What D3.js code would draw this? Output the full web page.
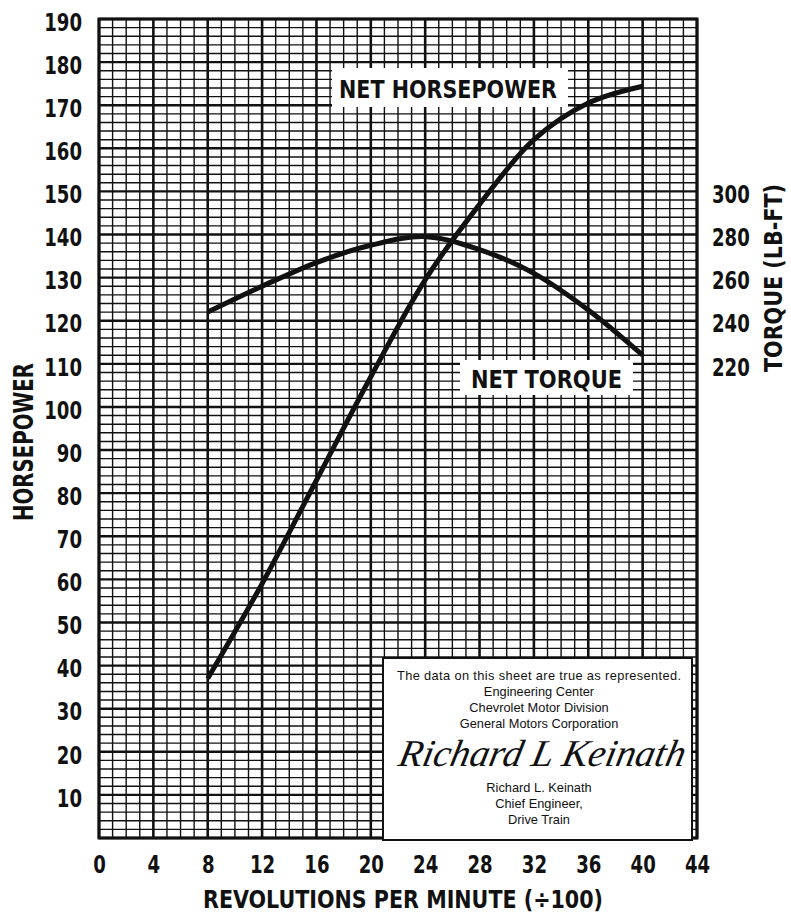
<!DOCTYPE html>
<html>
<head>
<meta charset="utf-8">
<script src="https://cdn.jsdelivr.net/npm/d3@7"></script>
<style>
  body { margin: 0; background: #fff; }
  svg text { fill: #111; }
  .lbl { font-family: "Liberation Sans Narrow", "DejaVu Sans Condensed", sans-serif; font-weight: bold; }
</style>
</head>
<body>
<div id="graph"></div>
<script>
// engine speed (x100 rpm)
var rpm = [8, 12, 16, 20, 24, 28, 32, 36, 40];
// net horsepower
var netHorsepower = [37, 59, 83, 107, 129.5, 147, 162, 170.5, 174.4];
// net torque (lb-ft)
var netTorque = [244, 256, 267, 275, 279, 273, 262, 245, 224];

var rpmTicks = [0, 4, 8, 12, 16, 20, 24, 28, 32, 36, 40, 44];
var hpTicks = [10, 20, 30, 40, 50, 60, 70, 80, 90, 100, 110, 120, 130, 140, 150, 160, 170, 180, 190];
var torqueTicks = [220, 240, 260, 280, 300];

var noteLines = ["The data on this sheet are true as represented.", "Engineering Center",
    "Chevrolet Motor Division", "General Motors Corporation"];
var signerLines = ["Richard L. Keinath", "Chief Engineer,", "Drive Train"];

var W = 791, H = 918;
var margin = {top: 19, right: 94, bottom: 80, left: 99},
    w = W - margin.left - margin.right,
    h = H - margin.top - margin.bottom;

var x = d3.scaleLinear().domain([0, 44]).range([0, w]);
var y = d3.scaleLinear().domain([0, 190]).range([h, 0]);
// torque is plotted at twice the horsepower scale
var yT = d3.scaleLinear().domain([0, 380]).range([h, 0]);

var svg = d3.select("#graph").append("svg")
    .attr("width", W)
    .attr("height", H)
    .append("g")
    .attr("transform", "translate(" + margin.left + "," + margin.top + ")");

// graph paper
svg.selectAll("line.vgrid")
    .data(d3.range(0, 45, 1))
    .enter().append("line")
    .attr("x1", d => x(d)).attr("x2", d => x(d))
    .attr("y1", 0).attr("y2", h)
    .style("stroke", "#111")
    .style("stroke-width", d => d % 4 == 0 ? 2.6 : 1.4);

svg.selectAll("line.hgrid")
    .data(d3.range(0, 191, 2))
    .enter().append("line")
    .attr("x1", 0).attr("x2", w)
    .attr("y1", d => y(d)).attr("y2", d => y(d))
    .style("stroke", "#111")
    .style("stroke-width", d => d % 10 == 0 ? 2.4 : 1.4);

svg.append("rect")
    .attr("x", 0).attr("y", 0).attr("width", w).attr("height", h)
    .style("fill", "none").style("stroke", "#111").style("stroke-width", 3);

// curves
var line = d3.line().curve(d3.curveCatmullRom);

svg.append("path")
    .attr("d", line(rpm.map((r, i) => [x(r), y(netHorsepower[i])])))
    .style("fill", "none").style("stroke", "#111").style("stroke-width", 5)
    .style("stroke-linecap", "butt");

svg.append("path")
    .attr("d", line(rpm.map((r, i) => [x(r), yT(netTorque[i])])))
    .style("fill", "none").style("stroke", "#111").style("stroke-width", 5)
    .style("stroke-linecap", "butt");

// curve labels
function tag(x0, y0, bw, bh, txt, tx, ty, len) {
    svg.append("rect")
        .attr("x", x0 - margin.left).attr("y", y0 - margin.top)
        .attr("width", bw).attr("height", bh)
        .style("fill", "#fff");
    svg.append("text")
        .attr("class", "lbl")
        .attr("x", tx - margin.left).attr("y", ty - margin.top)
        .attr("textLength", len).attr("lengthAdjust", "spacingAndGlyphs")
        .style("font-size", "25px")
        .text(txt);
}
tag(332, 68, 236, 39, "NET HORSEPOWER", 339, 98, 218);
tag(460, 360, 173, 35, "NET TORQUE", 471, 388, 151);

// certification box
var bx = 383 - margin.left, by = 658 - margin.top, bw = 309, bh = 182;
svg.append("rect")
    .attr("x", bx).attr("y", by).attr("width", bw).attr("height", bh)
    .style("fill", "#fff").style("stroke", "#111").style("stroke-width", 2);

var cx = 539 - margin.left;
svg.selectAll(".note")
    .data(noteLines)
    .enter().append("text")
    .attr("x", cx)
    .attr("y", (d, i) => 680 - margin.top + i * 16)
    .attr("text-anchor", "middle")
    .attr("textLength", (d, i) => i == 0 ? 284 : null)
    .style("font-family", "Liberation Sans, Arial, sans-serif")
    .style("font-size", "12.8px")
    .text(d => d);

svg.append("text")
    .attr("transform", "translate(" + (397 - margin.left) + "," + (766 - margin.top) + ") skewX(-12)")
    .attr("textLength", 286).attr("lengthAdjust", "spacingAndGlyphs")
    .style("font-family", "Liberation Serif, serif")
    .style("font-style", "italic")
    .style("font-size", "38px")
    .text("Richard L Keinath");

svg.selectAll(".signer")
    .data(signerLines)
    .enter().append("text")
    .attr("x", cx)
    .attr("y", (d, i) => 792 - margin.top + i * 16)
    .attr("text-anchor", "middle")
    .style("font-family", "Liberation Sans, Arial, sans-serif")
    .style("font-size", "12.8px")
    .text(d => d);

// axes
var xAxis = d3.axisBottom(x).tickValues(rpmTicks).tickSize(0).tickPadding(17);
var yAxis = d3.axisLeft(y).tickValues(hpTicks).tickSize(0).tickPadding(17);
var yAxisR = d3.axisRight(yT).tickValues(torqueTicks).tickSize(0).tickPadding(15);

function narrow(sel) {
    sel.attr("class", "lbl")
        .style("font-size", "25px")
        .attr("textLength", function() { return this.textContent.length * 12.6; })
        .attr("lengthAdjust", "spacingAndGlyphs");
}

svg.append("g")
    .attr("transform", "translate(0," + h + ")")
    .call(xAxis)
    .call(g => g.select(".domain").remove())
    .selectAll("text")
    .call(narrow);

svg.append("g")
    .call(yAxis)
    .call(g => g.select(".domain").remove())
    .selectAll("text")
    .attr("dy", "0.45em")
    .call(narrow);

svg.append("g")
    .attr("transform", "translate(" + w + ",0)")
    .call(yAxisR)
    .call(g => g.select(".domain").remove())
    .selectAll("text")
    .attr("dy", "0.45em")
    .call(narrow);

svg.selectAll(".tick text").style("fill", "#111");

// axis titles
svg.append("text")
    .attr("class", "lbl")
    .attr("x", 203 - margin.left).attr("y", 908 - margin.top)
    .attr("textLength", 400).attr("lengthAdjust", "spacingAndGlyphs")
    .style("font-size", "25px")
    .text("REVOLUTIONS PER MINUTE (÷100)");

svg.append("text")
    .attr("class", "lbl")
    .attr("transform", "translate(" + (33 - margin.left) + "," + (442 - margin.top) + ") rotate(-90)")
    .attr("text-anchor", "middle")
    .attr("textLength", 158).attr("lengthAdjust", "spacingAndGlyphs")
    .style("font-size", "26px")
    .text("HORSEPOWER");

svg.append("text")
    .attr("class", "lbl")
    .attr("transform", "translate(" + (782 - margin.left) + "," + (278 - margin.top) + ") rotate(-90)")
    .attr("text-anchor", "middle")
    .attr("textLength", 188).attr("lengthAdjust", "spacingAndGlyphs")
    .style("font-size", "25px")
    .text("TORQUE (LB-FT)");
</script>
</body>
</html>
